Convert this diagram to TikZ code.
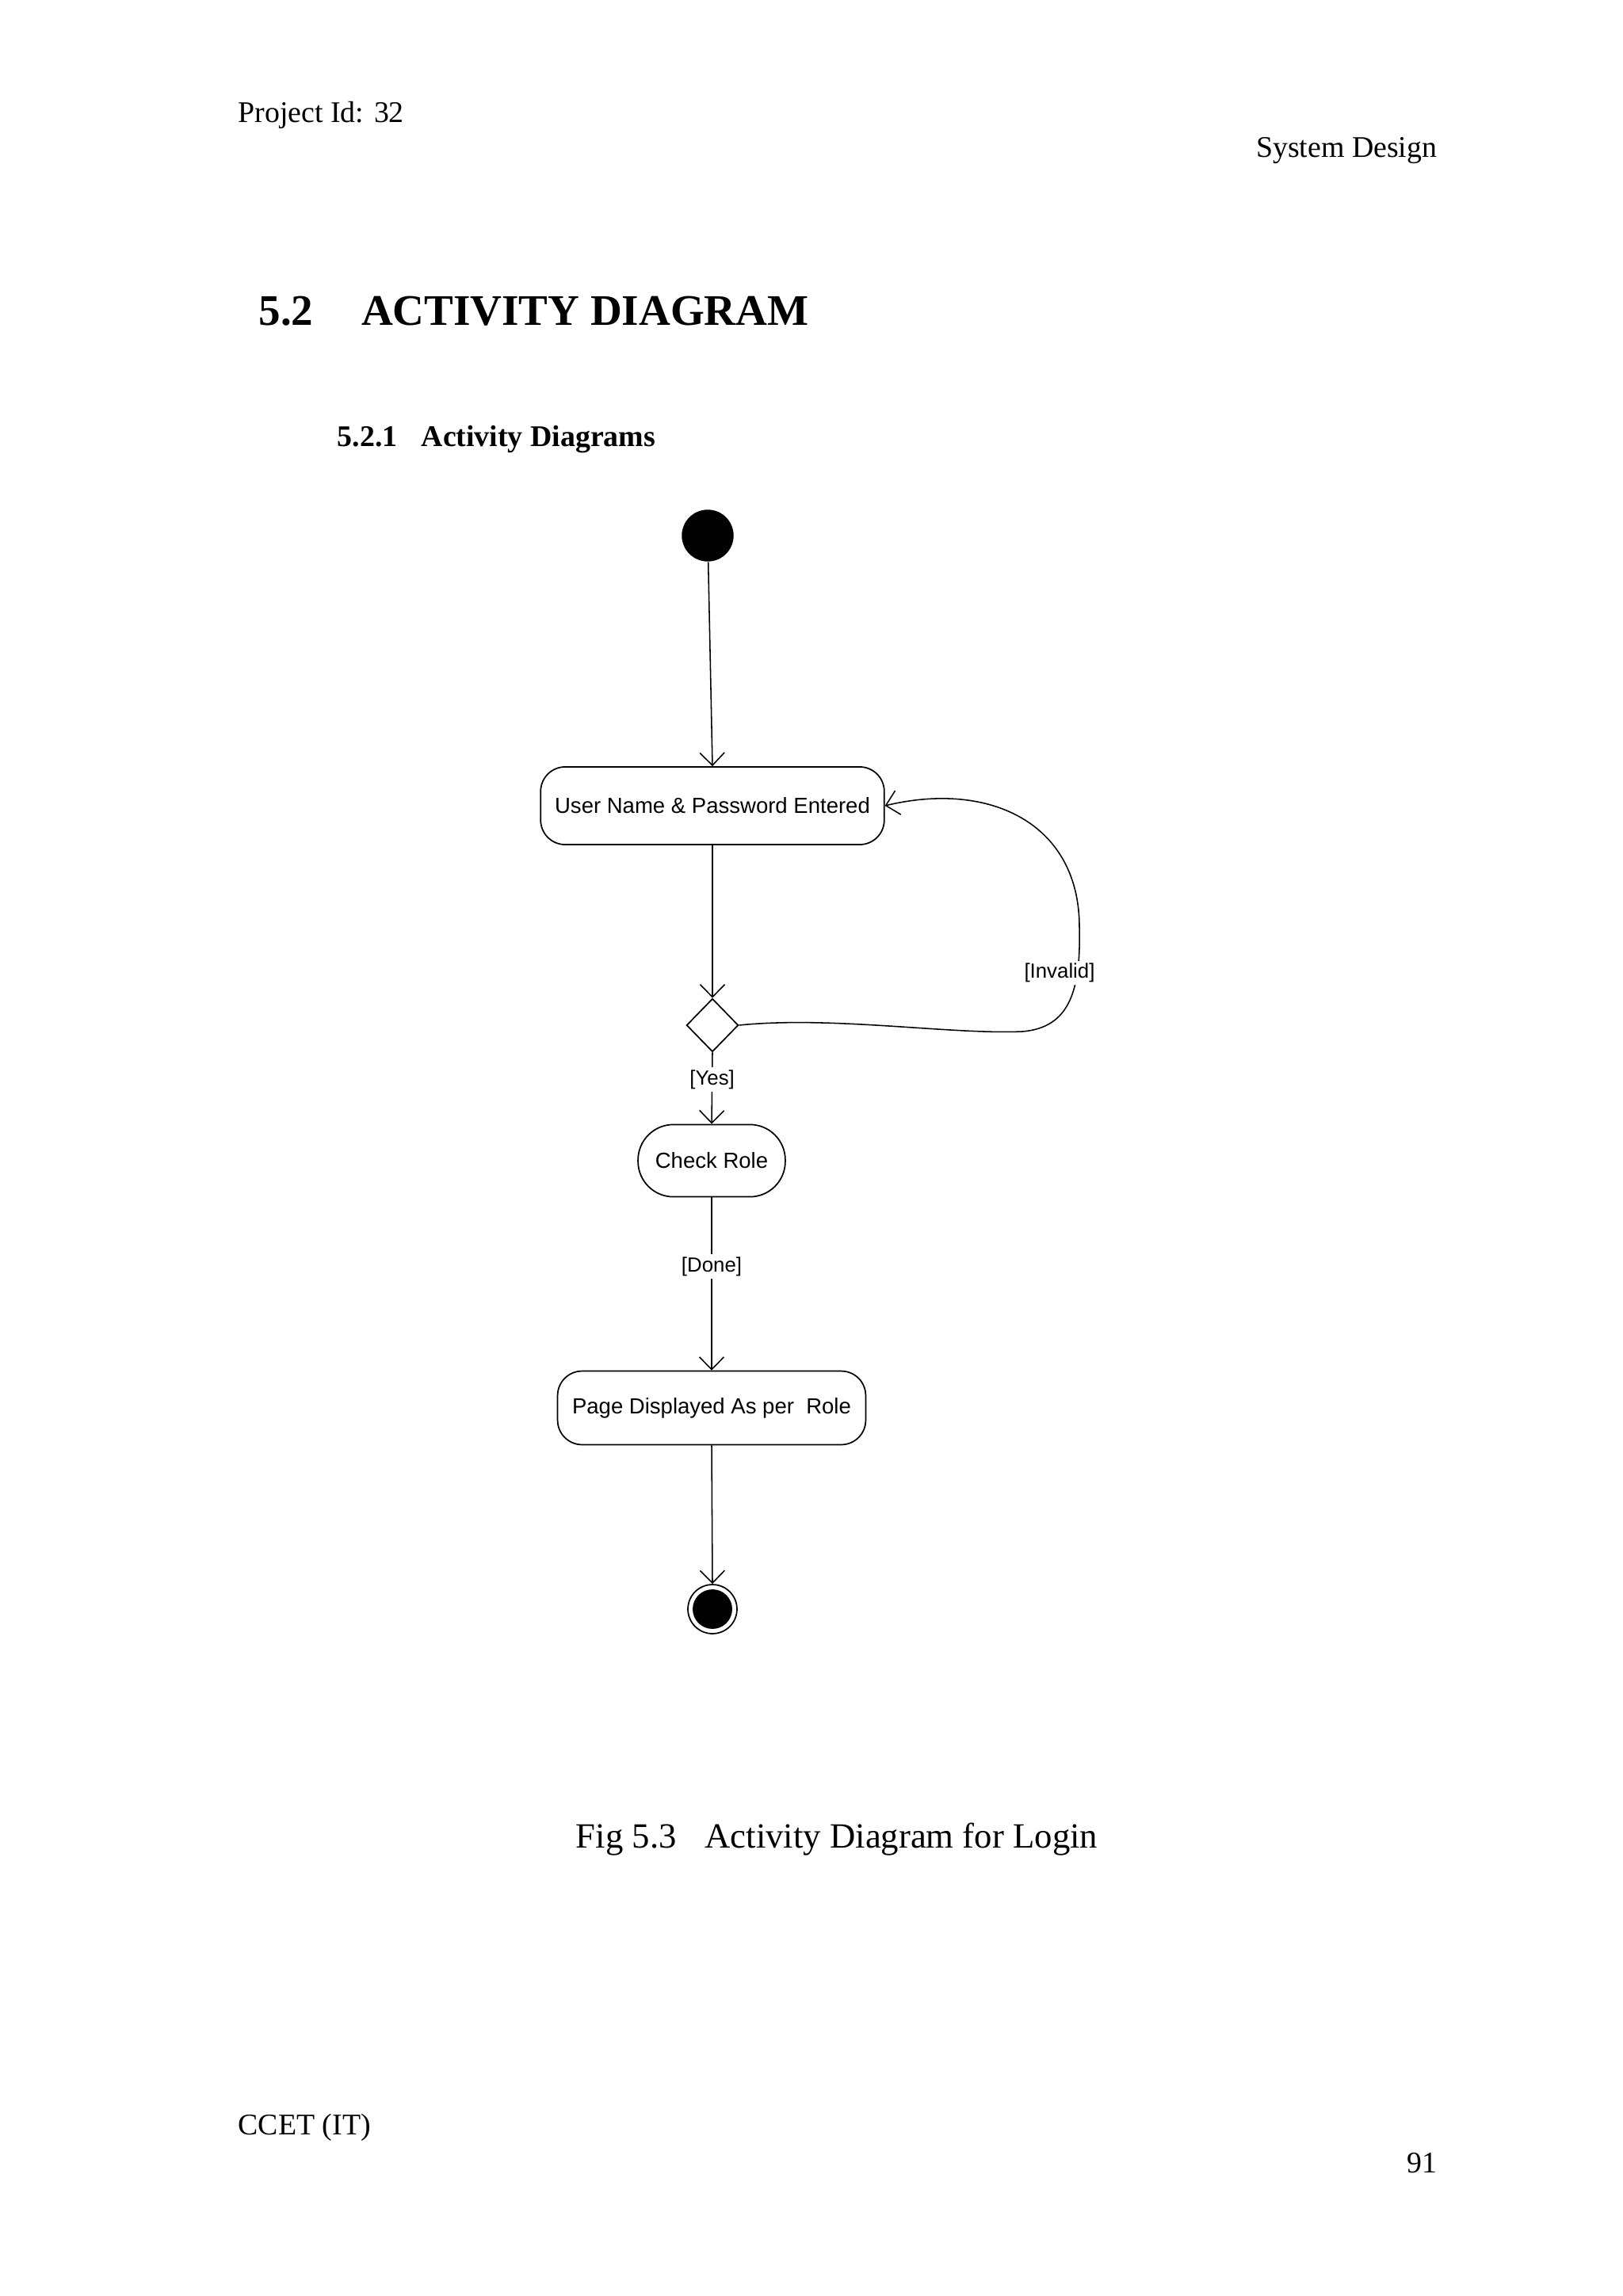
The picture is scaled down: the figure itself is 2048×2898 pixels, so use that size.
\documentclass[tikz,border=0pt]{standalone}
\usepackage{fontspec}
\setmainfont{Liberation Serif}
\newfontfamily\diag{Liberation Sans}
\usetikzlibrary{arrows.meta,shapes.geometric}
\begin{document}
\begin{tikzpicture}[x=0.2906pt,y=-0.2906pt,
  act/.style={draw,rounded corners=9pt,line width=0.5pt,font=\diag\fontsize{8}{9}\selectfont,inner sep=0pt},
  flow/.style={line width=0.45pt,-{Straight Barb[length=4.6pt,width=9pt,line width=0.45pt]}},
  guard/.style={fill=white,font=\diag\fontsize{7.5}{9}\selectfont,inner sep=1pt},
  txt/.style={font=\fontsize{11}{13}\selectfont,inner sep=0pt}]
\useasboundingbox (0,0) rectangle (2048,2898);
% page text
\node[txt,anchor=west] (pid) at (300,145) {Project Id: 32};
\node[txt,anchor=east] (sd) at (1814,190) {System Design};
\node[anchor=west,inner sep=0pt,font=\bfseries\fontsize{16}{19}\selectfont] (h1) at (326,393) {5.2\hspace{1.1em}ACTIVITY DIAGRAM};
\node[anchor=west,inner sep=0pt,font=\bfseries\fontsize{11}{13}\selectfont] (h2) at (425,555) {5.2.1\hspace{0.8em}Activity Diagrams};
\node[inner sep=0pt,font=\fontsize{13}{15}\selectfont] (cap) at (1056,2322) {Fig 5.3\hspace{0.8em}Activity Diagram for Login};
\node[txt,anchor=west] (cc) at (300,2685) {CCET (IT)};
\node[txt,anchor=east] (pg) at (1814,2730) {91};
% diagram
\node[circle,fill=black,minimum size=19pt,inner sep=0pt] (start) at (893,676) {};
\node[act,minimum width=126pt,minimum height=28.5pt] (b1) at (899,1017) {User Name \& Password Entered};
\node[diamond,draw,line width=0.5pt,minimum width=19pt,minimum height=19.5pt,inner sep=0pt] (d) at (899,1294) {};
\node[act,minimum width=54pt,minimum height=26.5pt,rounded corners=13pt] (cr) at (898,1465) {Check Role};
\node[act,minimum width=113pt,minimum height=27pt] (pd) at (898,1777) {Page Displayed As per\ \ Role};
\node[circle,draw,line width=0.5pt,minimum size=18pt,inner sep=0pt] (end) at (899,2031) {};
\node[circle,fill=black,minimum size=14.5pt,inner sep=0pt] (endin) at (899,2031) {};
\draw[flow] (start) -- (b1.north);
\draw[flow] (b1.south) -- (d.north);
\draw[flow] (d.south) -- node[guard,pos=0.38] (yes) {[Yes]} (cr.north);
\draw[flow] (cr.south) -- node[guard,pos=0.4] (done) {[Done]} (pd.north);
\draw[flow] (pd.south) -- (end.north);
\coordinate (l1) at (1290,1302);
\coordinate (l2) at (1362,1170);
\draw[flow] (d.east) .. controls (1050,1282) and (1200,1306) .. (l1)
  .. controls (1350,1297) and (1364,1250) .. (l2)
  .. controls (1362,1040) and (1250,985) .. (b1.east);
\node[guard] (inv) at (1337,1228) {[Invalid]};
\end{tikzpicture}
\end{document}
